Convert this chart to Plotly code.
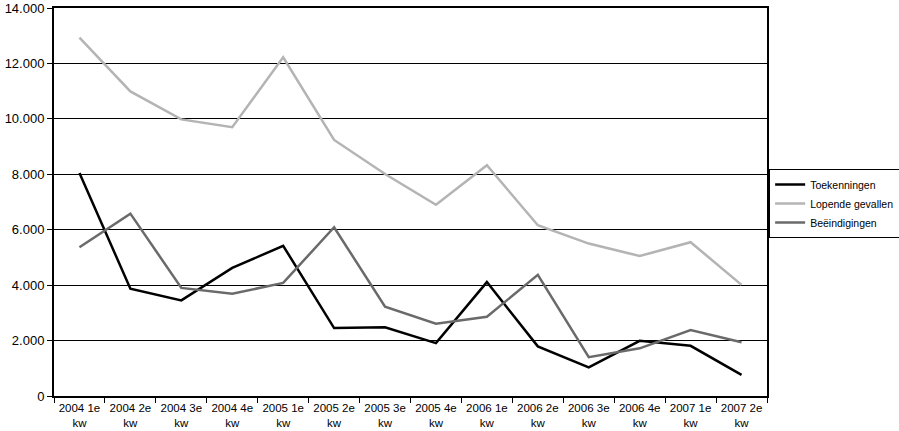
import plotly.graph_objects as go

categories = ["2004 1e kw", "2004 2e kw", "2004 3e kw", "2004 4e kw", "2005 1e kw",
              "2005 2e kw", "2005 3e kw", "2005 4e kw", "2006 1e kw", "2006 2e kw",
              "2006 3e kw", "2006 4e kw", "2007 1e kw", "2007 2e kw"]
tick_labels = [c.rsplit(" ", 1)[0] + "<br>" + c.rsplit(" ", 1)[1] for c in categories]

toekenningen = [8050, 3870, 3450, 4620, 5420, 2450, 2480, 1910, 4110, 1790, 1030, 1990, 1810, 760]
lopende = [12930, 10990, 9980, 9700, 12220, 9240, 8010, 6900, 8330, 6160, 5500, 5050, 5550, 4010]
beeindigingen = [5370, 6580, 3900, 3690, 4080, 6090, 3220, 2610, 2860, 4370, 1400, 1720, 2380, 1940]

y_ticks = [0, 2000, 4000, 6000, 8000, 10000, 12000, 14000]
y_tick_text = ["0", "2.000", "4.000", "6.000", "8.000", "10.000", "12.000", "14.000"]

fig = go.Figure()
fig.add_trace(go.Scatter(x=categories, y=toekenningen, name="Toekenningen", mode="lines",
                         line=dict(color="#000000", width=2.5)))
fig.add_trace(go.Scatter(x=categories, y=lopende, name="Lopende gevallen", mode="lines",
                         line=dict(color="#b4b4b4", width=2.5)))
fig.add_trace(go.Scatter(x=categories, y=beeindigingen, name="Beëindigingen", mode="lines",
                         line=dict(color="#6a6a6a", width=2.5)))

fig.update_layout(
    width=899, height=431,
    margin=dict(l=54, r=132, t=8, b=35, autoexpand=False),
    paper_bgcolor="white", plot_bgcolor="white",
    font=dict(family="Liberation Sans, Arial, sans-serif", size=11, color="black"),
    showlegend=True,
    legend=dict(x=1.003, y=0.585, xanchor="left", yanchor="top",
                bordercolor="black", borderwidth=1, bgcolor="white",
                font=dict(size=10.5), tracegroupgap=0, itemwidth=30),
)
fig.update_xaxes(
    type="category", categoryorder="array", categoryarray=categories,
    tickmode="array", tickvals=categories, ticktext=tick_labels,
    tickson="boundaries", ticks="outside", ticklen=5, tickcolor="black",
    showgrid=False, showline=True, linecolor="black", linewidth=1.5, mirror=True,
    range=[-0.5, len(categories) - 0.5], tickfont=dict(size=11.5),
)
fig.update_yaxes(
    range=[0, 14000], tickmode="array", tickvals=y_ticks, ticktext=y_tick_text,
    ticks="outside", ticklen=5, tickcolor="black",
    showgrid=True, gridcolor="black", gridwidth=1,
    showline=True, linecolor="black", linewidth=2, mirror=True,
    zeroline=False, tickfont=dict(size=13), automargin=False,
    ticklabeloverflow="allow",
)
fig.write_html("out.html")
